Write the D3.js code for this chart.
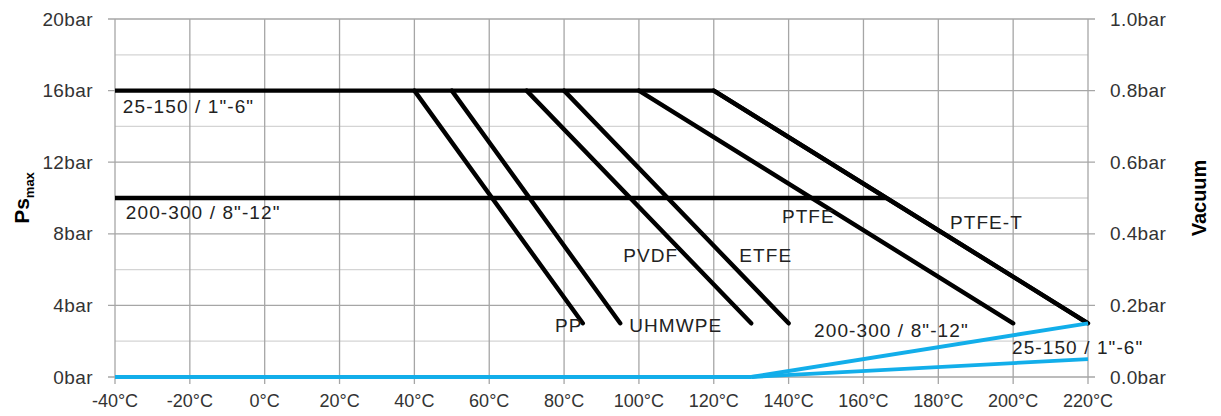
<!DOCTYPE html>
<html>
<head>
<meta charset="utf-8">
<script src="https://cdn.jsdelivr.net/npm/d3@7"></script>
<style>
  body { margin: 0; background: #fff; }
  svg { display: block; font-family: "Liberation Sans", Arial, sans-serif; }
</style>
</head>
<body>
<svg id="chart" width="1221" height="416"></svg>
<script>
// temperature axis (°C) and pressure axes (bar)
const tempTicks = [-40, -20, 0, 20, 40, 60, 80, 100, 120, 140, 160, 180, 200, 220];
const pressureTicks = [0, 4, 8, 12, 16, 20];
const pressureMinor = [2, 6, 10, 14, 18];
const vacuumTicks = [0, 0.2, 0.4, 0.6, 0.8, 1.0];

// max pressure envelopes per size range
const size25to150 = [[-40, 16], [120, 16], [220, 3]];
const size200to300 = [[-40, 10], [166, 10]];

// material derating lines: start temp at 16 bar, end temp at 3 bar
const materials = ['PP', 'UHMWPE', 'PVDF', 'ETFE', 'PTFE', 'PTFE-T'];
const materialStart = [40, 50, 70, 80, 100, 120];
const materialEnd = [85, 95, 130, 140, 200, 220];

// vacuum lines (right axis)
const vacuumBase = [[-40, 0], [130, 0]];
const vacuum200to300 = [[130, 0], [220, 0.15]];
const vacuum25to150 = [[130, 0], [220, 0.05]];

// annotation anchors in data units (temp, bar)
const labels = [
  { text: '25-150 / 1"-6"', t: -37.9, p: 14.75 },
  { text: '200-300 / 8"-12"', t: -37.1, p: 8.8 },
  { text: 'PTFE', t: 138.2, p: 8.6 },
  { text: 'PVDF', t: 95.8, p: 6.42 },
  { text: 'ETFE', t: 126.8, p: 6.42 },
  { text: 'PP', t: 77.6, p: 2.5 },
  { text: 'UHMWPE', t: 97.4, p: 2.5 },
  { text: 'PTFE-T', t: 183.1, p: 8.27 },
  { text: '200-300 / 8"-12"', t: 146.8, p: 2.23 },
  { text: '25-150 / 1"-6"', t: 199.7, p: 1.28 }
];

const svg = d3.select('#chart');
const plotLeft = 115, plotRight = 1088, plotTop = 19, plotBottom = 377;

const x = d3.scaleLinear().domain([-40, 220]).range([plotLeft, plotRight]);
const y = d3.scaleLinear().domain([0, 20]).range([plotBottom, plotTop]);
const yv = d3.scaleLinear().domain([0, 1]).range([plotBottom, plotTop]);

const grid = svg.append('g');
// minor horizontal grid
grid.selectAll('.minor').data(pressureMinor).join('line').attr('class', 'minor')
  .attr('x1', plotLeft).attr('x2', plotRight)
  .attr('y1', d => y(d)).attr('y2', d => y(d))
  .attr('stroke', '#d4d4d4').attr('stroke-width', 1.3);
// major horizontal grid
grid.selectAll('.major').data(pressureTicks).join('line').attr('class', 'major')
  .attr('x1', plotLeft - 7).attr('x2', plotRight + 7)
  .attr('y1', d => y(d)).attr('y2', d => y(d))
  .attr('stroke', '#a6a6a6').attr('stroke-width', 1.3);
// vertical grid
grid.selectAll('.vert').data(tempTicks).join('line').attr('class', 'vert')
  .attr('x1', d => x(d)).attr('x2', d => x(d))
  .attr('y1', plotTop).attr('y2', plotBottom + 7)
  .attr('stroke', '#a6a6a6').attr('stroke-width', 1.3);

// axes labels
svg.append('g').selectAll('text').data(pressureTicks).join('text')
  .attr('x', plotLeft - 22).attr('y', d => y(d)).attr('dy', '0.35em')
  .attr('text-anchor', 'end').attr('font-size', 19).attr('letter-spacing', 0.4).attr('fill', '#333')
  .text(d => d + 'bar');
svg.append('g').selectAll('text').data(vacuumTicks).join('text')
  .attr('x', plotRight + 22).attr('y', d => yv(d)).attr('dy', '0.35em')
  .attr('font-size', 19).attr('letter-spacing', 0.4).attr('fill', '#333')
  .text(d => d.toFixed(1) + 'bar');
svg.append('g').selectAll('text').data(tempTicks).join('text')
  .attr('x', d => x(d)).attr('y', 407)
  .attr('text-anchor', 'middle').attr('font-size', 18).attr('fill', '#333')
  .text(d => d + '°C');

// axis titles
const ps = svg.append('text')
  .attr('transform', 'translate(29,198) rotate(-90)')
  .attr('text-anchor', 'middle').attr('font-weight', 'bold').attr('font-size', 21);
ps.append('tspan').text('Ps');
ps.append('tspan').attr('font-size', 13).attr('dy', 5).text('max');
svg.append('text')
  .attr('transform', 'translate(1206,198) rotate(-90)')
  .attr('text-anchor', 'middle').attr('font-weight', 'bold').attr('font-size', 20)
  .text('Vacuum');

// black pressure lines
const line = d3.line().x(d => x(d[0])).y(d => y(d[1]));
const black = svg.append('g').attr('fill', 'none').attr('stroke', '#000')
  .attr('stroke-width', 4.4).attr('stroke-linecap', 'round').attr('stroke-linejoin', 'round');
black.append('path').attr('d', line(size200to300)).attr('stroke-linecap', 'butt');
black.selectAll('.mat').data(materials).join('path').attr('class', 'mat')
  .attr('d', (d, i) => line([[materialStart[i], 16], [materialEnd[i], 3]]));
black.append('path').attr('d', line(size25to150)).attr('stroke-linecap', 'butt');

// blue vacuum lines
const vline = d3.line().x(d => x(d[0])).y(d => yv(d[1]));
const blue = svg.append('g').attr('fill', 'none').attr('stroke', '#12aeea')
  .attr('stroke-width', 3.8);
[vacuumBase, vacuum200to300, vacuum25to150].forEach(s => blue.append('path').attr('d', vline(s)));

// annotations
svg.append('g').selectAll('text').data(labels).join('text')
  .attr('x', d => x(d.t)).attr('y', d => y(d.p))
  .attr('font-size', 19).attr('letter-spacing', 1.1).attr('fill', '#222')
  .text(d => d.text);
</script>
</body>
</html>
